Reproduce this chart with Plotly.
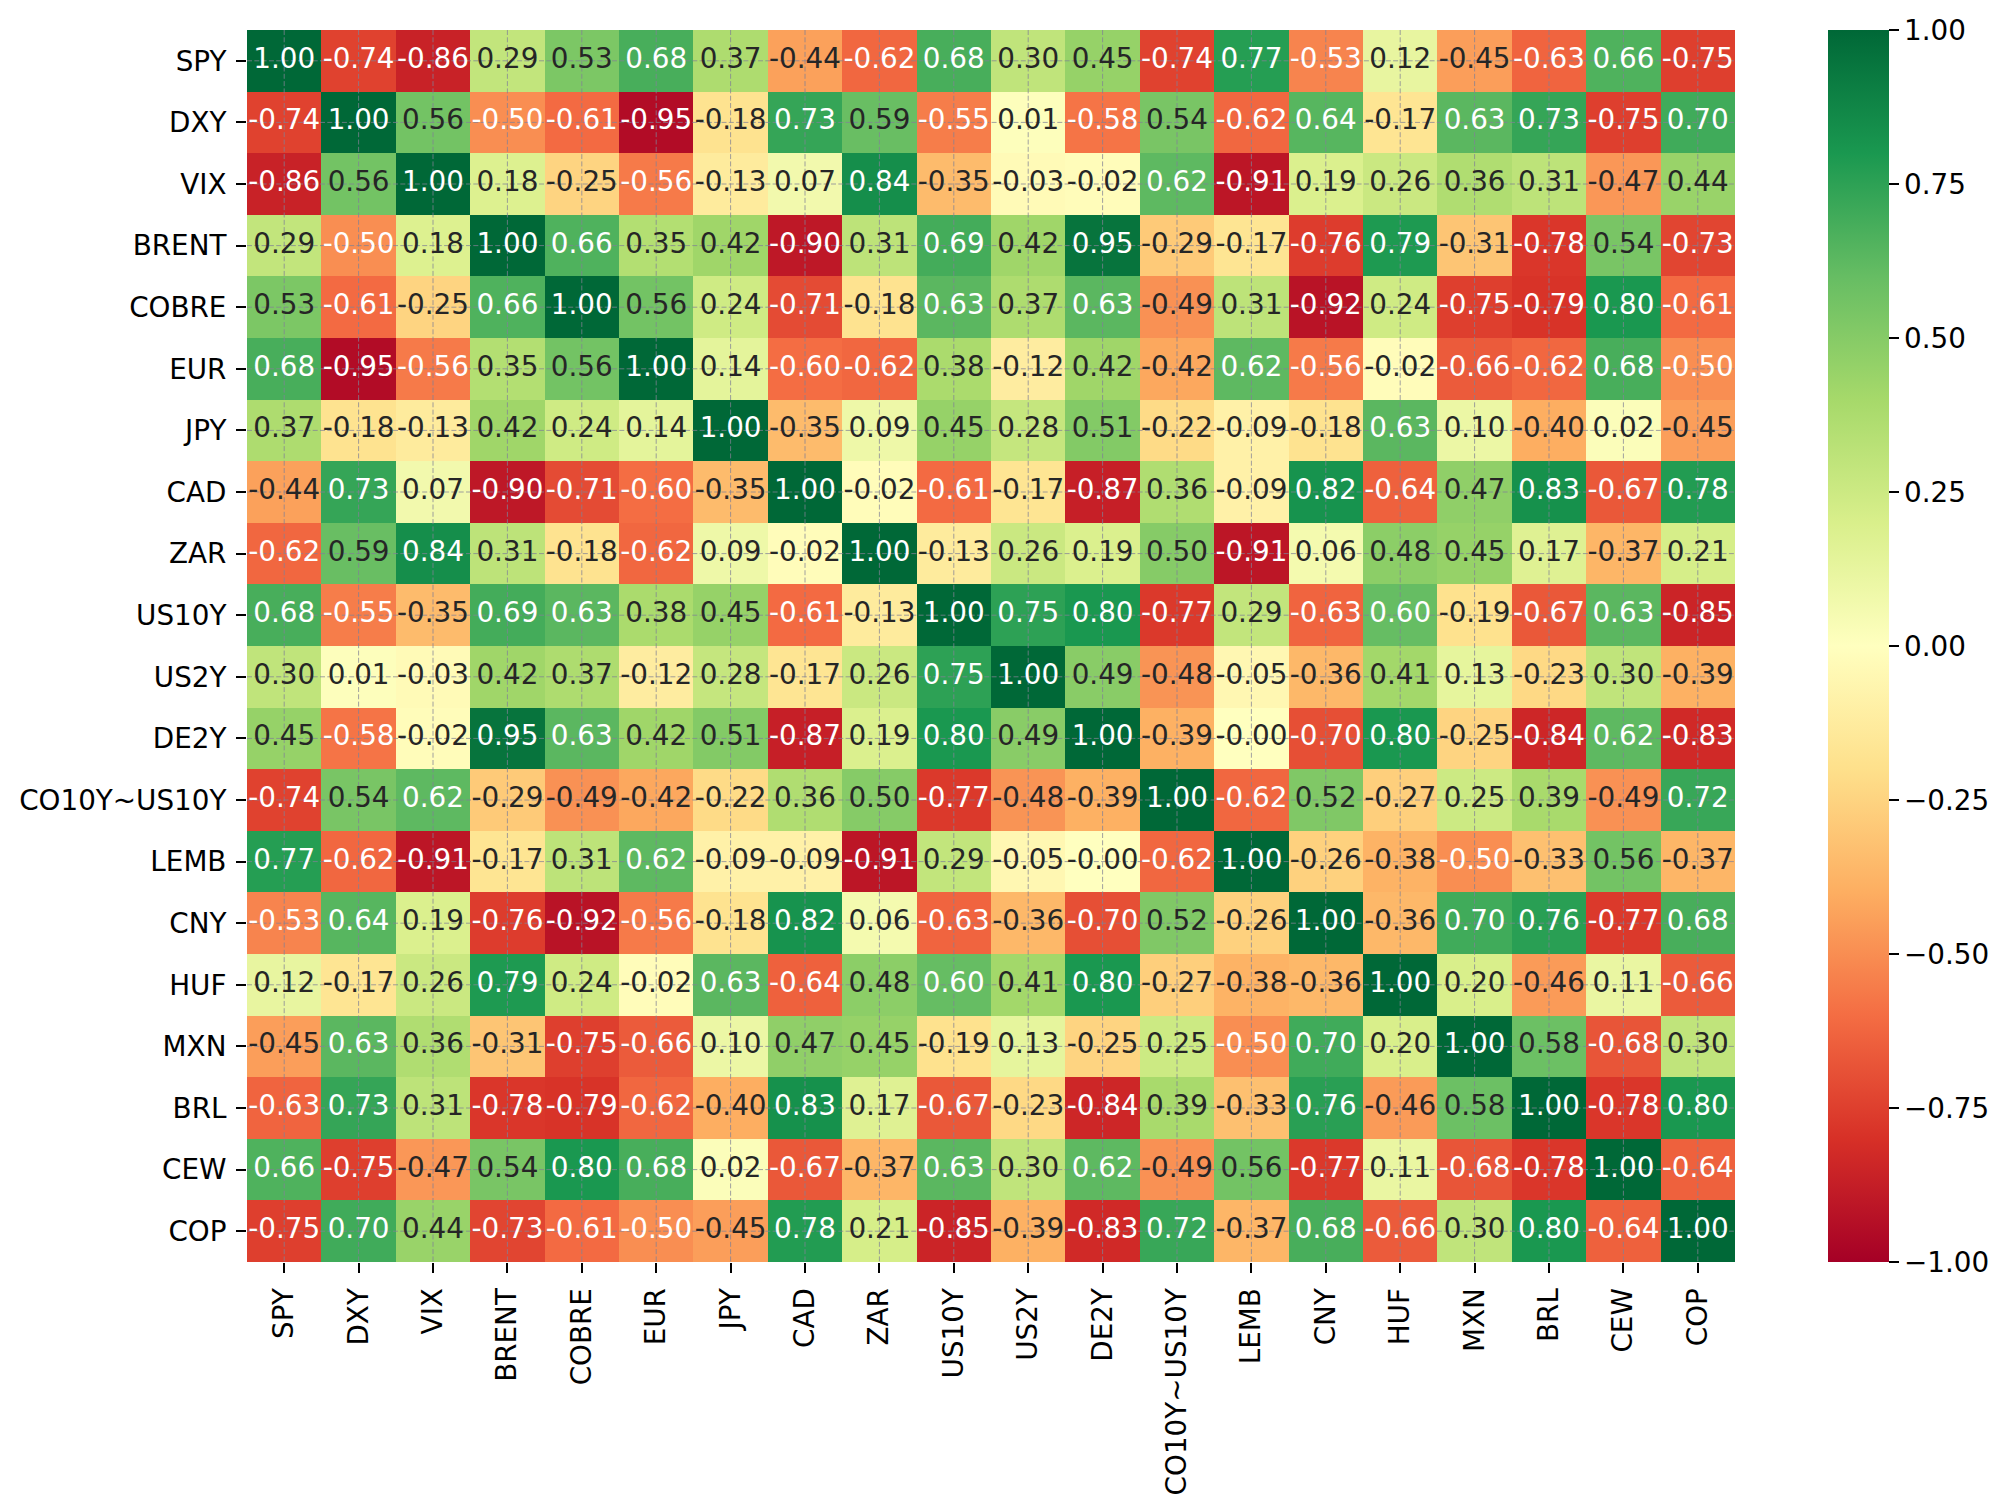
import numpy as np
import plotly.graph_objects as go

labels = ["SPY", "DXY", "VIX", "BRENT", "COBRE", "EUR", "JPY", "CAD", "ZAR", "US10Y",
          "US2Y", "DE2Y", "CO10Y~US10Y", "LEMB", "CNY", "HUF", "MXN", "BRL", "CEW", "COP"]

corr = [
    [1.00, -0.74, -0.86, 0.29, 0.53, 0.68, 0.37, -0.44, -0.62, 0.68, 0.30, 0.45, -0.74, 0.77, -0.53, 0.12, -0.45, -0.63, 0.66, -0.75],
    [-0.74, 1.00, 0.56, -0.50, -0.61, -0.95, -0.18, 0.73, 0.59, -0.55, 0.01, -0.58, 0.54, -0.62, 0.64, -0.17, 0.63, 0.73, -0.75, 0.70],
    [-0.86, 0.56, 1.00, 0.18, -0.25, -0.56, -0.13, 0.07, 0.84, -0.35, -0.03, -0.02, 0.62, -0.91, 0.19, 0.26, 0.36, 0.31, -0.47, 0.44],
    [0.29, -0.50, 0.18, 1.00, 0.66, 0.35, 0.42, -0.90, 0.31, 0.69, 0.42, 0.95, -0.29, -0.17, -0.76, 0.79, -0.31, -0.78, 0.54, -0.73],
    [0.53, -0.61, -0.25, 0.66, 1.00, 0.56, 0.24, -0.71, -0.18, 0.63, 0.37, 0.63, -0.49, 0.31, -0.92, 0.24, -0.75, -0.79, 0.80, -0.61],
    [0.68, -0.95, -0.56, 0.35, 0.56, 1.00, 0.14, -0.60, -0.62, 0.38, -0.12, 0.42, -0.42, 0.62, -0.56, -0.02, -0.66, -0.62, 0.68, -0.50],
    [0.37, -0.18, -0.13, 0.42, 0.24, 0.14, 1.00, -0.35, 0.09, 0.45, 0.28, 0.51, -0.22, -0.09, -0.18, 0.63, 0.10, -0.40, 0.02, -0.45],
    [-0.44, 0.73, 0.07, -0.90, -0.71, -0.60, -0.35, 1.00, -0.02, -0.61, -0.17, -0.87, 0.36, -0.09, 0.82, -0.64, 0.47, 0.83, -0.67, 0.78],
    [-0.62, 0.59, 0.84, 0.31, -0.18, -0.62, 0.09, -0.02, 1.00, -0.13, 0.26, 0.19, 0.50, -0.91, 0.06, 0.48, 0.45, 0.17, -0.37, 0.21],
    [0.68, -0.55, -0.35, 0.69, 0.63, 0.38, 0.45, -0.61, -0.13, 1.00, 0.75, 0.80, -0.77, 0.29, -0.63, 0.60, -0.19, -0.67, 0.63, -0.85],
    [0.30, 0.01, -0.03, 0.42, 0.37, -0.12, 0.28, -0.17, 0.26, 0.75, 1.00, 0.49, -0.48, -0.05, -0.36, 0.41, 0.13, -0.23, 0.30, -0.39],
    [0.45, -0.58, -0.02, 0.95, 0.63, 0.42, 0.51, -0.87, 0.19, 0.80, 0.49, 1.00, -0.39, -0.0, -0.70, 0.80, -0.25, -0.84, 0.62, -0.83],
    [-0.74, 0.54, 0.62, -0.29, -0.49, -0.42, -0.22, 0.36, 0.50, -0.77, -0.48, -0.39, 1.00, -0.62, 0.52, -0.27, 0.25, 0.39, -0.49, 0.72],
    [0.77, -0.62, -0.91, -0.17, 0.31, 0.62, -0.09, -0.09, -0.91, 0.29, -0.05, -0.0, -0.62, 1.00, -0.26, -0.38, -0.50, -0.33, 0.56, -0.37],
    [-0.53, 0.64, 0.19, -0.76, -0.92, -0.56, -0.18, 0.82, 0.06, -0.63, -0.36, -0.70, 0.52, -0.26, 1.00, -0.36, 0.70, 0.76, -0.77, 0.68],
    [0.12, -0.17, 0.26, 0.79, 0.24, -0.02, 0.63, -0.64, 0.48, 0.60, 0.41, 0.80, -0.27, -0.38, -0.36, 1.00, 0.20, -0.46, 0.11, -0.66],
    [-0.45, 0.63, 0.36, -0.31, -0.75, -0.66, 0.10, 0.47, 0.45, -0.19, 0.13, -0.25, 0.25, -0.50, 0.70, 0.20, 1.00, 0.58, -0.68, 0.30],
    [-0.63, 0.73, 0.31, -0.78, -0.79, -0.62, -0.40, 0.83, 0.17, -0.67, -0.23, -0.84, 0.39, -0.33, 0.76, -0.46, 0.58, 1.00, -0.78, 0.80],
    [0.66, -0.75, -0.47, 0.54, 0.80, 0.68, 0.02, -0.67, -0.37, 0.63, 0.30, 0.62, -0.49, 0.56, -0.77, 0.11, -0.68, -0.78, 1.00, -0.64],
    [-0.75, 0.70, 0.44, -0.73, -0.61, -0.50, -0.45, 0.78, 0.21, -0.85, -0.39, -0.83, 0.72, -0.37, 0.68, -0.66, 0.30, 0.80, -0.64, 1.00],
]

cbar_ticks = [-1.0, -0.75, -0.5, -0.25, 0.0, 0.25, 0.5, 0.75, 1.0]

rdylgn = ["#a50026", "#d73027", "#f46d43", "#fdae61", "#fee08b", "#ffffbf",
          "#d9ef8b", "#a6d96a", "#66bd63", "#1a9850", "#006837"]

FONT = "DejaVu Sans"
FS = 27.8
n = len(labels)
idx = list(range(n))


def hex2rgb(h):
    return np.array([int(h[i:i + 2], 16) for i in (1, 3, 5)]) / 255.0


stops = np.array([hex2rgb(c) for c in rdylgn])


def cmap(v):
    t = (v + 1) / 2 * (len(stops) - 1)
    t = min(max(t, 0), len(stops) - 1)
    i = min(int(np.floor(t)), len(stops) - 2)
    f = t - i
    return stops[i] * (1 - f) + stops[i + 1] * f


def lum(rgb):
    rgb = np.where(rgb <= .03928, rgb / 12.92, ((rgb + .055) / 1.055) ** 2.4)
    return rgb.dot([.2126, .7152, .0722])


tx, ty, tt, tc = [], [], [], []
for r in range(n):
    for c in range(n):
        v = corr[r][c]
        tx.append(c)
        ty.append(r)
        tt.append(f"{v:.2f}")
        tc.append("#262626" if lum(cmap(v)) > .408 else "#ffffff")

colorscale = [[i / (len(rdylgn) - 1), col] for i, col in enumerate(rdylgn)]

fig = go.Figure()
fig.add_trace(go.Heatmap(
    z=corr, x=idx, y=idx, zmin=-1, zmax=1, colorscale=colorscale,
    hoverinfo="skip",
    colorbar=dict(
        thickness=61, thicknessmode="pixels", len=1, lenmode="fraction",
        x=(1828 - 247) / 1488, xanchor="left", xpad=0, y=0.5, yanchor="middle", ypad=0,
        outlinewidth=0, tickmode="array", tickvals=cbar_ticks,
        ticktext=[("−" if t < 0 else "") + f"{abs(t):.2f}" for t in cbar_ticks],
        ticks="outside", ticklen=10, tickwidth=2, tickcolor="black",
        tickfont=dict(family=FONT, size=FS, color="black"),
    ),
))

# dashed grid lines at cell centres, drawn above the cells
gx, gy = [], []
for i in idx:
    gx += [i, i, None]
    gy += [-0.5, n - 0.5, None]
for i in idx:
    gx += [-0.5, n - 0.5, None]
    gy += [i, i, None]
fig.add_trace(go.Scatter(x=gx, y=gy, mode="lines", hoverinfo="skip", showlegend=False,
                         line=dict(color="rgba(130,130,150,0.75)", width=1, dash="5px,2.3px")))

fig.add_trace(go.Scatter(x=tx, y=ty, text=tt, mode="text", textposition="middle center",
                         textfont=dict(family=FONT, size=FS, color=tc),
                         hoverinfo="skip", showlegend=False))

fig.update_layout(
    width=2013, height=1509,
    margin=dict(l=247, r=278, t=30, b=247),
    paper_bgcolor="white", plot_bgcolor="white",
    font=dict(family=FONT, size=FS, color="black"),
    showlegend=False,
    xaxis=dict(range=[-0.5, n - 0.5], tickmode="array", tickvals=idx, ticktext=labels,
               tickangle=-90, ticks="outside", ticklen=10, tickwidth=2, tickcolor="black",
               showgrid=False, zeroline=False, showline=False, fixedrange=True,
               tickfont=dict(family=FONT, size=FS, color="black"), ticklabelstandoff=4),
    yaxis=dict(range=[n - 0.5, -0.5], tickmode="array", tickvals=idx, ticktext=labels,
               ticks="outside", ticklen=10, tickwidth=2, tickcolor="black",
               showgrid=False, zeroline=False, showline=False, fixedrange=True,
               tickfont=dict(family=FONT, size=FS, color="black"), ticklabelstandoff=4),
)

fig.write_html("out.html")
